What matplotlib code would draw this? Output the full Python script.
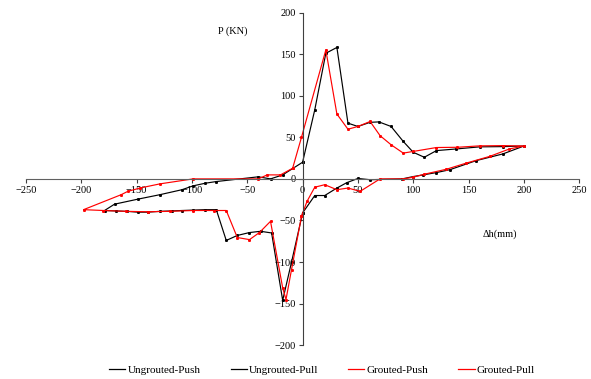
import matplotlib.pyplot as plt
from matplotlib.lines import Line2D

plt.rcParams['font.family'] = ['Liberation Serif', 'DejaVu Serif']

# Ungrouted (black)
ug_push_x = [0, 11, 21, 31, 41, 50, 61, 69, 80, 91, 100, 110, 121, 139, 160, 181, 200,
             181, 157, 133, 121, 109, 100, 90, 61, 50, 40, 31, 20, 11, 0]
ug_push_y = [20, 83, 151, 158, 67, 63, 68, 68.5, 63, 45, 32, 26, 34, 36, 38.5, 38.8, 39.5,
             30, 22, 11, 7.6, 4.8, 2.8, 0, -1, 0.5, -4.5, -11, -20, -20, -41]
ug_pull_x = [0, -10, -18, -28, -38, -48, -59, -69, -78, -88, -99, -109, -118, -129, -140,
             -149, -159, -169, -179, -170, -149, -129, -109, -99, -88, -78, -40, -29, -18, 0]
ug_pull_y = [-41, -100, -146, -65, -63, -64.5, -68, -74, -37, -37, -37.5, -38, -38.5, -39, -40,
             -40, -39, -38.5, -38, -30.4, -24.4, -19, -13, -8.4, -5.2, -3.2, 2.5, 0, 4.8, 20]

# Grouted (red)
g_push_x = [-9, -1, 21, 31, 41, 50, 61, 70, 80, 91, 100, 121, 140, 160, 181, 200,
            187, 169, 148, 130, 110, 100, 91, 70, 52, 41, 31, 20, 11, 4, -1]
g_push_y = [12.8, 50, 155, 78, 59.7, 63, 69, 52, 41, 31, 33, 37.7, 38, 39.7, 40, 39.5,
            36, 27, 19, 11.6, 5.6, 2, 0, 0, -15, -11, -13, -7, -10, -27, -45]
g_pull_x = [-1, -10, -15, -18, -29, -39, -48, -59, -69, -80, -99, -120, -140, -160, -180, -198,
            -164, -158, -147, -129, -99, -40, -32, -20, -9]
g_pull_y = [-45, -109, -145, -131, -51, -64.5, -73, -70.5, -38, -38, -38, -39, -39.5, -39, -38, -37,
            -19, -15, -11, -6, 0, 0, 4.8, 4.8, 12.8]

labels = ['Ungrouted-Push', 'Ungrouted-Pull', 'Grouted-Push', 'Grouted-Pull']

fig = plt.figure(figsize=(5.91, 3.79), dpi=100)
ax = fig.add_axes([0.044, 0.089, 0.936, 0.878])

ax.plot(ug_push_x, ug_push_y, color='black', lw=0.85, marker='s', ms=1.1)
ax.plot(ug_pull_x, ug_pull_y, color='black', lw=0.85, marker='s', ms=1.1)
ax.plot(g_push_x, g_push_y, color='red', lw=0.85, marker='s', ms=1.1)
ax.plot(g_pull_x, g_pull_y, color='red', lw=0.85, marker='s', ms=1.1)

ax.set_xlim(-250, 250)
ax.set_ylim(-200, 200)
ax.set_xticks(range(-250, 251, 50))
ax.set_yticks(range(-200, 201, 50))

ax.spines['left'].set_position(('data', 0))
ax.spines['bottom'].set_position(('data', 0))
ax.spines['right'].set_visible(False)
ax.spines['top'].set_visible(False)
ax.spines['left'].set_color('#404040')
ax.spines['bottom'].set_color('#606060')
ax.tick_params(axis='both', direction='out', length=3, width=0.8, color='#404040',
               labelsize=7.5, pad=2)

ax.text(-63, 178, 'P (KN)', fontsize=7.5, ha='center', va='center')
ax.text(178, -67, '\u0394h(mm)', fontsize=7.5, ha='center', va='center')

handles = [Line2D([], [], color=c, lw=0.9) for c in ['black', 'black', 'red', 'red']]
fig.legend(handles, labels, loc='center', bbox_to_anchor=(0.545, 0.024), ncol=4,
           frameon=False, fontsize=8, handlelength=1.45, handletextpad=0.2,
           columnspacing=2.7)

fig.savefig('out.png', dpi=100)
